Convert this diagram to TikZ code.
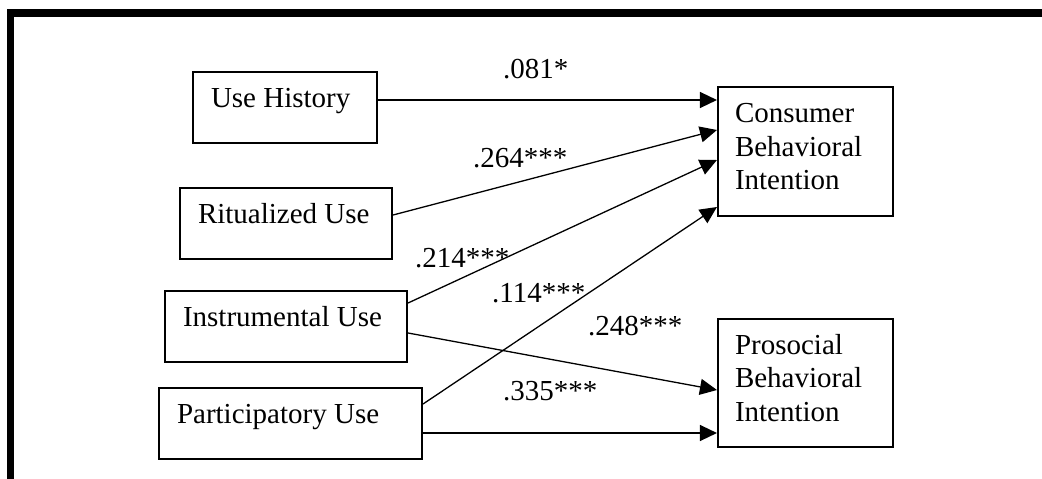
\documentclass[tikz,border=0pt]{standalone}
\usepackage{fontspec}
\setmainfont{Liberation Serif}
\usetikzlibrary{arrows.meta}
\begin{document}
\begin{tikzpicture}[x=1pt,y=-1pt,
  txt/.style={font=\fontsize{29}{33.5}\selectfont},
  box/.style={txt, draw, line width=1.6pt, rectangle, inner sep=0pt,
              text height=0pt, text depth=0pt, minimum height=71.5pt},
  tallbox/.style={txt, draw, line width=1.6pt, rectangle, inner sep=0pt,
              text height=0pt, text depth=58pt, minimum width=175.5pt},
  lab/.style={txt, inner sep=0pt, anchor=base west},
  arr/.style={-{Triangle[length=17pt,width=16pt]}, line width=1.3pt}]
\useasboundingbox (0,0) rectangle (1042,479);
% heavy frame along the top and left edges
\draw[line width=7.6pt, line join=miter] (1042,12.8) -- (10.5,12.8) -- (10.5,479);

% predictors
\node[box, minimum width=184.5pt] (uh) at (285,107.5) {\makebox[148pt][l]{Use History}};
\node[box, minimum width=212.5pt] (ru) at (286,223.5) {\makebox[176pt][l]{Ritualized Use}};
\node[box, minimum width=242.5pt] (iu) at (286,326.5) {\makebox[206pt][l]{Instrumental Use}};
\node[box, minimum width=263.5pt] (pu) at (290.5,423.5) {\makebox[227pt][l]{Participatory Use}};

% outcomes
\node[tallbox, minimum height=129.5pt] (cbi) at (805.5,151.5)
  {\parbox[t]{141pt}{Consumer\\Behavioral\\Intention}};
\node[tallbox, minimum height=128.5pt] (pbi) at (805.5,383)
  {\parbox[t]{141pt}{Prosocial\\Behavioral\\Intention}};

% paths
\draw[arr] ([yshift=7.5pt]uh.east)  -- ([yshift=51.5pt]cbi.west);
\draw[arr] ([yshift=8.5pt]ru.east)  -- ([yshift=21.5pt]cbi.west);
\draw[arr] ([yshift=23.5pt]iu.east) -- ([yshift=-8.5pt]cbi.west);
\draw[arr] ([yshift=19.5pt]pu.east) -- ([yshift=-55.5pt]cbi.west);
\draw[arr] ([yshift=-6.5pt]iu.east) -- ([yshift=-7pt]pbi.west);
\draw[arr] ([yshift=-9.5pt]pu.east) -- ([yshift=-50pt]pbi.west);

% path coefficients
\node[lab] (c1) at (503,78)  {.081*};
\node[lab] (c2) at (473,167) {.264***};
\node[lab] (c3) at (415,267) {.214***};
\node[lab] (c4) at (492,302) {.114***};
\node[lab] (c5) at (588,335) {.248***};
\node[lab] (c6) at (503,400) {.335***};
\end{tikzpicture}
\end{document}
